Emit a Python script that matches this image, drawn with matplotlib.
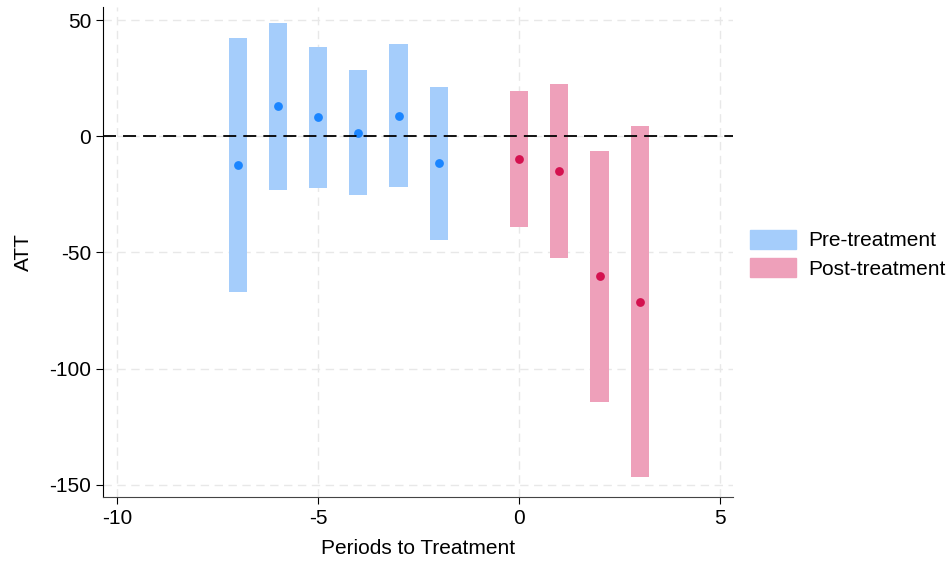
import matplotlib
matplotlib.use("Agg")
import matplotlib.pyplot as plt
from matplotlib.patches import Patch

plt.rcParams['font.family'] = ['Liberation Sans', 'DejaVu Sans']

pre_periods = [-7, -6, -5, -4, -3, -2]
pre_att = [-12.3, 12.8, 8.2, 1.6, 8.9, -11.7]
pre_lo = [-67.1, -23.2, -22.1, -25.2, -21.8, -44.7]
pre_hi = [42.4, 48.6, 38.4, 28.7, 39.6, 21.4]

post_periods = [0, 1, 2, 3]
post_att = [-9.9, -14.9, -60.2, -71.2]
post_lo = [-39.1, -52.3, -114.2, -146.7]
post_hi = [19.3, 22.4, -6.3, 4.4]

xticks = [-10, -5, 0, 5]
yticks = [50, 0, -50, -100, -150]

pre_bar = '#a5cdfb'
pre_pt = '#1a85ff'
post_bar = '#eea0ba'
post_pt = '#d4114f'

fig = plt.figure(figsize=(9.51, 5.61), dpi=100)
ax = fig.add_axes([0.1083, 0.1141, 0.6625, 0.8734])

w = 0.45
ax.bar(pre_periods, [h - l for h, l in zip(pre_hi, pre_lo)], bottom=pre_lo,
       width=w, color=pre_bar, zorder=2)
ax.bar(post_periods, [h - l for h, l in zip(post_hi, post_lo)], bottom=post_lo,
       width=w, color=post_bar, zorder=2)
ax.scatter(pre_periods, pre_att, s=40, color=pre_pt, zorder=3, linewidths=0)
ax.scatter(post_periods, post_att, s=40, color=post_pt, zorder=3, linewidths=0)

ax.axhline(0, color='black', linestyle=(0, (7.2, 3.9)), linewidth=1.3, zorder=4)

ax.set_xlim(-10.35, 5.32)
ax.set_ylim(-155.2, 55.6)
ax.set_xticks(xticks)
ax.set_yticks(yticks)
ax.set_xticklabels([str(t) for t in xticks])
ax.set_yticklabels([str(t) for t in yticks])
ax.grid(True, color='#e8e8e8', linestyle=(0, (6, 4)), linewidth=1.0, zorder=0)
ax.set_axisbelow(True)

for s in ['top', 'right']:
    ax.spines[s].set_visible(False)
ax.spines['left'].set_color('black')
ax.spines['bottom'].set_color('#444444')
ax.tick_params(axis='both', direction='out', length=5, labelsize=15, colors='black')

ax.set_xlabel('Periods to Treatment', fontsize=15, labelpad=8)
ax.set_ylabel('ATT', fontsize=15, labelpad=12)

handles = [Patch(color=pre_bar, label='Pre-treatment'),
           Patch(color=post_bar, label='Post-treatment')]
fig.legend(handles=handles, loc='upper left', bbox_to_anchor=(0.7796, 0.605),
           frameon=False, fontsize=15, handlelength=2.2, handleheight=1.0,
           handletextpad=0.6, labelspacing=0.38, borderaxespad=0)

fig.savefig('out.png', dpi=100)
